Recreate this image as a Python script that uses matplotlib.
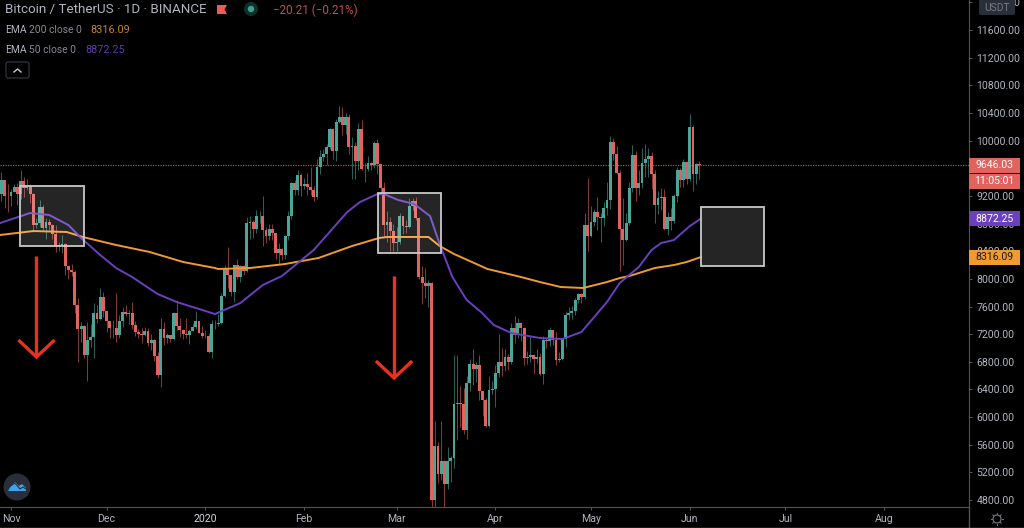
import matplotlib
matplotlib.use('Agg')
import matplotlib.pyplot as plt
from matplotlib.patches import Rectangle, Circle, Polygon, FancyBboxPatch

plt.rcParams['font.family'] = ['Roboto', 'DejaVu Sans']

# daily candles from Oct 29 2019 to Jun 4 2020, day 0 is Nov 1
first_day = -3
first_open = 9230
highs = [9540, 9430, 9370,
         9298, 9377, 9380, 9568, 9477, 9450, 9374, 9247, 8880, 9147, 9072, 8885, 8859, 8787, 8773,
         8536, 8635, 8525, 8190, 8220, 8130, 7720, 7375, 7330, 7370, 7340, 7655, 7620, 7870, 7810,
         7540, 7395, 7410, 7798, 7480, 7590, 7620, 7555, 7660, 7395, 7270, 7295, 7310, 7290, 7195,
         7135, 6940, 7440, 7370, 7220, 7190, 7520, 7700, 7440, 7272, 7435, 7270, 7365, 7530, 7395, 7320,
         7255, 7212, 7406, 7404, 7495, 7795, 8207, 8455, 8055, 8199, 8286, 8197, 8196, 8900, 8909,
         8850, 9000, 8988, 9198, 8745, 8790, 8800, 8660, 8515, 8450, 8640, 8980, 9400, 9430, 9570, 9530,
         9460, 9530, 9620, 9350, 9730, 9860, 9875, 9950, 10185, 10190, 10320, 10500, 10490, 10400, 10380,
         10050, 9980, 10250, 10300, 9680, 9780, 9690, 9990, 10025, 9660, 9400, 8980, 8900, 8800,
         8750, 8960, 8910, 8850, 9165, 9170, 9190, 8890, 8180, 8150, 7990, 7960, 5950, 5640, 5950,
         5380, 5560, 5440, 6900, 6900, 6450, 6420, 6600, 6840, 6980, 6795, 6900, 6300, 6275, 6600, 6525,
         6750, 7200, 7000, 6990, 6920, 7360, 7460, 7430, 7380, 7300, 6950, 7175, 6910, 6990, 6930,
         7180, 7150, 7310, 7260, 7230, 6940, 7150, 7530, 7600, 7610, 7720, 7800, 7790, 8950, 9460,
         9060, 9010, 9190, 8960, 9110, 9400, 10070, 10040, 9920, 9575, 9170, 8950, 9400, 9930, 9845,
         9580, 9890, 9950, 9900, 9840, 9570, 9270, 9310, 9300, 8970, 9020, 9225, 9625, 9605, 9740, 9700,
         10380, 10227, 9680, 9700]
lows = [9120, 9030, 8970,
        9060, 9250, 9070, 9160, 9180, 9280, 9100, 8673, 8740, 8750, 8700, 8570, 8700, 8570, 8388,
        8400, 8380, 8050, 8000, 8040, 7500, 6790, 7080, 6860, 6515, 7015, 6850, 7360, 7405, 7450,
        7225, 7150, 7150, 7085, 7150, 7300, 7460, 7350, 7270, 7170, 7150, 7070, 7170, 7030, 6970,
        6810, 6560, 6435, 7040, 7075, 7085, 7120, 7265, 7160, 7125, 7150, 7060, 7240, 7275, 7210, 7150,
        7150, 6925, 6855, 7272, 7318, 7346, 7733, 7870, 7750, 7672, 8000, 7960, 8055, 8105, 8570,
        8590, 8670, 8806, 8470, 8520, 8560, 8560, 8290, 8220, 8270, 8290, 8560, 8860, 9220, 9220, 9200,
        9300, 9220, 9220, 9120, 9160, 9520, 9700, 9650, 9880, 9730, 9700, 10250, 10080, 10090, 9800,
        9450, 9450, 9580, 9580, 9400, 9560, 9580, 9600, 9520, 9260, 8600, 8530, 8400, 8400,
        8410, 8500, 8650, 8660, 8730, 8990, 8850, 8000, 7630, 7730, 7590, 4400, 3782, 5050, 5090,
        4450, 4965, 5060, 5260, 5670, 5860, 5750, 5690, 6380, 6470, 6510, 6250, 6020, 5860, 5855, 6330,
        6150, 6580, 6600, 6670, 6680, 6770, 7075, 7150, 7100, 6750, 6770, 6800, 6630, 6780, 6610,
        6475, 7000, 7030, 7050, 6750, 6790, 6820, 7015, 7400, 7420, 7470, 7650, 7650, 7710, 8400,
        8600, 8760, 8700, 8530, 8760, 8930, 9010, 9720, 9520, 8115, 8200, 8550, 8780, 9260, 9130,
        9220, 9320, 9480, 9470, 9300, 8815, 8940, 9000, 8700, 8640, 8700, 8810, 9110, 9330, 9330, 9375,
        9415, 9266, 9375, 9450]
closes = [9427, 9205, 9199,
          9261, 9324, 9235, 9412, 9320, 9344, 9231, 8773, 8809, 9039, 8733, 8821, 8777, 8645, 8471,
          8491, 8502, 8187, 8133, 8098, 7627, 7268, 7311, 6903, 7109, 7156, 7508, 7419, 7739, 7541,
          7390, 7294, 7292, 7194, 7389, 7527, 7488, 7510, 7338, 7224, 7202, 7188, 7251, 7068, 7113,
          6882, 6612, 7277, 7150, 7187, 7132, 7501, 7317, 7255, 7204, 7194, 7247, 7300, 7385, 7220, 7168,
          7174, 6945, 7344, 7354, 7358, 7758, 8145, 8055, 7817, 8197, 8020, 8184, 8110, 8810, 8821,
          8720, 8913, 8916, 8701, 8627, 8724, 8660, 8381, 8431, 8340, 8615, 8906, 9392, 9285, 9500, 9338,
          9374, 9329, 9289, 9180, 9613, 9764, 9805, 9904, 10173, 9851, 10268, 10348, 10229, 10344, 9904,
          9917, 9706, 10164, 9593, 9596, 9677, 9650, 9960, 9656, 9316, 8785, 8823, 8692, 8523,
          8531, 8915, 8760, 8750, 9054, 9131, 8886, 8033, 7935, 7894, 7934, 4800, 5578, 5172, 5360,
          5034, 5358, 5413, 6191, 6206, 6186, 5810, 6494, 6768, 6694, 6760, 6372, 6250, 5876, 6394, 6410,
          6642, 6794, 6733, 6867, 6791, 7293, 7193, 7363, 7283, 6858, 6874, 6901, 6841, 6869, 6624,
          7116, 7096, 7257, 7120, 6826, 6841, 7125, 7482, 7505, 7538, 7693, 7774, 7738, 8778, 8620,
          8826, 8972, 8895, 8886, 9031, 9148, 9986, 9800, 9539, 8722, 8561, 8810, 9309, 9791, 9316,
          9381, 9680, 9733, 9775, 9511, 9067, 9170, 9179, 8720, 8900, 8841, 9204, 9575, 9427, 9697, 9448,
          10200, 9518, 9666, 9646]

ema200_days = [-3.4, 7, 17.5, 22.5, 33, 43.5, 54, 64, 65, 75, 86, 96.5, 107, 115.5, 118, 131, 134.5,
               139, 149.5, 160, 166, 172.5, 179.5, 187, 191, 194, 202, 208, 212, 216.5]
ema200_vals = [8635, 8692, 8678, 8606, 8490, 8389, 8244, 8157, 8143, 8157, 8215, 8302, 8475, 8591, 8606,
               8606, 8475, 8360, 8143, 8027, 7954, 7882, 7868, 7954, 8012, 8041, 8157, 8200, 8244, 8316]
ema50_days = [-3.4, 6, 12, 18, 22, 28, 33, 38, 46, 52, 59, 64, 72, 79, 85, 95, 105.5, 109.5, 115, 117,
              121.5, 126.5, 131.5, 134.5, 138.5, 143, 147.5, 151.5, 157, 166, 173, 179, 187, 191, 197,
              201, 204, 208, 213, 216.5]
ema50_vals = [8808, 8953, 8924, 8779, 8591, 8345, 8157, 8027, 7781, 7665, 7564, 7491, 7651, 7911, 8041,
              8418, 8967, 9112, 9228, 9228, 9141, 9083, 8909, 8504, 8027, 7694, 7520, 7332, 7216, 7144,
              7130, 7231, 7665, 7940, 8172, 8418, 8519, 8562, 8765, 8872]

month_days = [0, 30, 61, 92, 121, 152, 182, 213, 243, 274]
month_labels = ['Nov', 'Dec', '2020', 'Feb', 'Mar', 'Apr', 'May', 'Jun', 'Jul', 'Aug']
price_ticks = [4800, 5200, 5600, 6000, 6400, 6800, 7200, 7600, 8000, 8400, 8800, 9200, 9600,
               10000, 10400, 10800, 11200, 11600, 12000]

last_price = 9646.03
ema200_last = 8316.09
ema50_last = 8872.25
boxes = [(2.8, 22.9, 8475, 9344), (115.2, 134.9, 8374, 9242), (216.5, 236.3, 8186, 9040)]
arrows = [(8.0, 8331, 6869), (120.2, 8041, 6565)]

up = '#4ba598'
down = '#e2625e'
purple = '#6a3fc0'
orange = '#f19a30'
grey = '#b2b5be'
line_grey = '#50535e'
font_size = 7.6

fig = plt.figure(figsize=(10.24, 5.28), dpi=100, facecolor='black')
ax = fig.add_axes([0, 21 / 528, 969 / 1024, 507 / 528], facecolor='black')
ax.set_xlim(-3.45, 300.6)
ax.set_ylim(4699, 12035)

# candles
ax.axhline(last_price, color='#b04a46', lw=0.9, ls=(0, (1, 1)), zorder=1)
days = list(range(first_day, first_day + len(closes)))
opens = [first_open] + closes[:-1]
for d, o, h, l, c in zip(days, opens, highs, lows, closes):
    col = up if c >= o else down
    ax.vlines(d, l, h, color=col, lw=0.7, alpha=0.6, zorder=2)
    ax.bar(d, abs(c - o), bottom=min(o, c), width=0.9, color=col, lw=0, zorder=3)

ax.plot(ema200_days, ema200_vals, color=orange, lw=1.4, zorder=4)
ax.plot(ema50_days, ema50_vals, color=purple, lw=1.4, zorder=4)

# hand drawn boxes and arrows
for x0, x1, y0, y1 in boxes:
    ax.add_patch(Rectangle((x0, y0), x1 - x0, y1 - y0, facecolor='white', alpha=0.15, lw=0, zorder=5))
    ax.add_patch(Rectangle((x0, y0), x1 - x0, y1 - y0, fill=False, edgecolor='#c8c8c8', lw=1.3, zorder=5))
for x, top, tip in arrows:
    ax.plot([x, x], [top, tip], color='#e8321f', lw=2.4, zorder=6, solid_capstyle='butt')
    ax.plot([x - 5.3, x, x + 5.3], [tip + 230, tip, tip + 230],
            color='#e8321f', lw=2.4, zorder=6, solid_joinstyle='miter')

# axes
for side in ['top', 'left']:
    ax.spines[side].set_visible(False)
ax.spines['right'].set_color(line_grey)
ax.spines['bottom'].set_color(line_grey)
ax.yaxis.tick_right()
ax.set_yticks(price_ticks)
ax.set_yticklabels(['%.2f' % p for p in price_ticks], color=grey, fontsize=font_size)
ax.tick_params(axis='y', length=2.5, width=0.8, color=line_grey, pad=3)
ax.set_xticks(month_days)
ax.set_xticklabels(month_labels, color=grey, fontsize=font_size)
ax.tick_params(axis='x', length=2, width=0.8, color=line_grey, pad=3)
ax.get_xticklabels()[2].set_color('#d1d4dc')

# price tags on the right scale
tags = [(last_price, '9646.03', '#e2625e', 'white', 0),
        (last_price, '11:05:01', '#e2625e', 'white', 16),
        (ema50_last, '8872.25', purple, 'white', 0),
        (ema200_last, '8316.09', orange, '#1a1a1a', 0)]
tag_width = 51 / 969
unit = (12035 - 4699) / 507
for price, label, col, txt, shift in tags:
    mid = price - shift * unit
    ax.add_patch(Rectangle((1.0, mid - 7.5 * unit), tag_width, 15 * unit, transform=ax.get_yaxis_transform(),
                           facecolor=col, lw=0, clip_on=False, zorder=10))
    ax.text(1.0 + tag_width / 2, mid, label, transform=ax.get_yaxis_transform(), color=txt, fontsize=font_size,
            ha='center', va='center', clip_on=False, zorder=11)

# header and buttons in pixel coordinates
over = fig.add_axes([0, 0, 1, 1], facecolor='none')
over.set_xlim(0, 1024)
over.set_ylim(528, 0)
over.axis('off')
over.text(5, 10, 'Bitcoin / TetherUS · 1D · BINANCE', color=grey, fontsize=9.6, va='center')
over.add_patch(Polygon([(217, 5), (227, 5), (224.5, 9.5), (227, 14), (217, 14)], facecolor='#ef5a56', lw=0))
over.add_patch(Circle((251, 9), 7, facecolor='#10302c', lw=0))
over.add_patch(Circle((251, 9), 3.2, facecolor='#3fa08f', lw=0))
over.text(273, 10, '−20.21 (−0.21%)', color='#c0504e', fontsize=8.4, va='center')
over.text(5, 30, 'EMA', color=grey, fontsize=7.4, va='center')
over.text(29, 30, '200 close 0', color='#888b95', fontsize=7.4, va='center')
over.text(90, 30, '8316.09', color='#c9832b', fontsize=7.8, va='center')
over.text(5, 50, 'EMA', color=grey, fontsize=7.4, va='center')
over.text(29, 50, '50 close 0', color='#888b95', fontsize=7.4, va='center')
over.text(85, 50, '8872.25', color='#5a3da8', fontsize=7.8, va='center')
over.add_patch(FancyBboxPatch((6, 62), 23, 16, boxstyle='round,pad=0,rounding_size=2', facecolor='black',
                              edgecolor='#363a45', lw=0.8))
over.plot([14, 17.5, 21], [72, 69, 72], color='#c8cad0', lw=1)

over.add_patch(FancyBboxPatch((979, 0), 36, 15, boxstyle='round,pad=0,rounding_size=2', facecolor='#2a2e39', lw=0))
over.text(997, 8, 'USDT', color='#787b86', fontsize=7.4, ha='center', va='center')

# logo
over.add_patch(Circle((17, 487), 13.5, facecolor='#2a2e39', lw=0))
over.add_patch(Polygon([(8, 491), (11, 486), (15, 482), (19, 486), (22, 484), (26, 488), (26, 491)],
                       facecolor='#3fa4ec', lw=0))
over.plot([9, 15, 20, 23, 26], [487, 483, 489, 487, 489], color='#2a2e39', lw=0.8)

# bottom chrome, settings sun has eight short rays
over.plot([969, 969], [507, 528], color=line_grey, lw=1)
over.plot([0, 1024], [527.5, 527.5], color='#8a8a8a', lw=1)
over.add_patch(Circle((997, 519), 4, fill=False, edgecolor='#787b86', lw=0.8))
for rx, ry in [(0, -6), (0, 6), (-6, 0), (6, 0), (-4.2, -4.2), (4.2, -4.2), (-4.2, 4.2), (4.2, 4.2)]:
    over.plot([997 + rx * 0.8, 997 + rx], [519 + ry * 0.8, 519 + ry], color='#787b86', lw=0.7)

fig.savefig('out.png', dpi=100, facecolor='black')
